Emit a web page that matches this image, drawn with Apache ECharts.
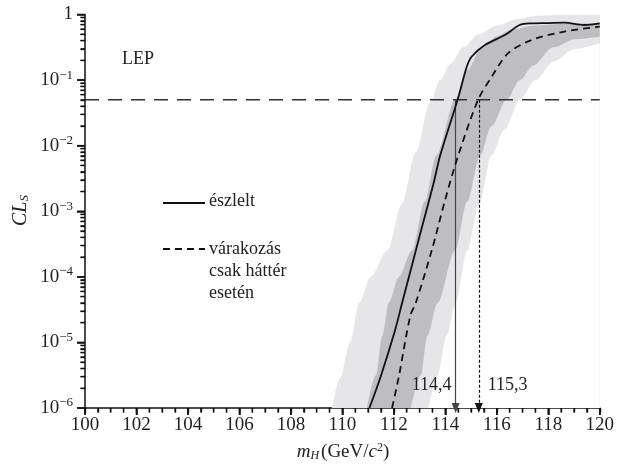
<!DOCTYPE html>
<html><head><meta charset="utf-8">
<script src="https://cdn.jsdelivr.net/npm/echarts@6/dist/echarts.min.js"></script>
<style>html,body{margin:0;padding:0;background:#fff}#c{width:617px;height:468px}</style>
</head><body><div id="c"></div>
<script>
// observed CLs
const massObs = [111.05, 111.48, 112.03, 112.32, 113.06, 113.54, 113.8, 114.48, 114.83, 115.02, 115.54, 116.31, 116.89, 117.34, 118.0, 118.63, 119.4, 120];
const clsObs  = [1e-6, 2.95e-6, 1.45e-5, 3.98e-5, 5.13e-4, 2.63e-3, 7.08e-3, 0.0507, 0.158, 0.227, 0.342, 0.486, 0.692, 0.733, 0.741, 0.75, 0.692, 0.733];
// expected (background only)
const massExp = [111.93, 112.19, 112.64, 112.85, 113.47, 113.99, 114.5, 115.28, 115.8, 116.44, 117.34, 118.63, 120];
const clsExp  = [1e-6, 2.95e-6, 2.57e-5, 3.98e-5, 2.51e-4, 1.48e-3, 7.08e-3, 0.0507, 0.112, 0.257, 0.407, 0.550, 0.652];
// 2 sigma band (light) edges
const band2UpMass = [109.6, 109.9, 110.3, 110.65, 111.1, 111.75, 112.3, 112.85, 113.4, 113.8, 114.2, 114.7, 115.3, 116.0, 116.8, 117.6, 118.5, 120];
const band2UpCLs  = [1e-6, 2.82e-6, 1e-5, 3.98e-5, 1e-4, 2.51e-4, 1.26e-3, 7.94e-3, 0.0447, 0.1, 0.178, 0.316, 0.501, 0.676, 0.851, 0.955, 1, 1];
const band2LoMass = [113.35, 113.7, 114.05, 114.4, 114.85, 115.3, 115.8, 116.3, 116.9, 117.5, 118.2, 119, 120];
const band2LoCLs  = [1e-6, 3.16e-6, 1.26e-5, 3.98e-5, 2.51e-4, 1.26e-3, 7.08e-3, 0.0178, 0.0501, 0.1, 0.191, 0.295, 0.363];
// 1 sigma band (dark) edges
const band1UpMass = [110.95, 111.3, 111.55, 111.8, 112.2, 112.7, 113.2, 113.65, 114.38, 114.85, 115.4, 116.0, 116.6, 117.4, 118.5, 120];
const band1UpCLs  = [1e-6, 3.16e-6, 1.26e-5, 3.98e-5, 1e-4, 2.51e-4, 1.41e-3, 7.08e-3, 0.0501, 0.141, 0.302, 0.468, 0.589, 0.676, 0.716, 0.735];
const band1LoMass = [112.66, 113.05, 113.3, 113.7, 114.38, 114.85, 115.35, 115.8, 116.38, 116.9, 117.4, 118.2, 119, 120];
const band1LoCLs  = [1e-6, 3.16e-6, 1.26e-5, 3.98e-5, 2.51e-4, 1.41e-3, 7.08e-3, 0.02, 0.0501, 0.1, 0.166, 0.316, 0.417, 0.457];
const threshold = 0.05;
const limitObs = 114.4, limitExp = 115.3;
const limitObsLabel = '114,4', limitExpLabel = '115,3';
const limitLabelCLs = 2.2e-6;
const xMin = 100, xMax = 120, xStep = 2, xMinorStep = 0.5;
const yMin = 1e-6, yMax = 1;
const legendObs = 'észlelt';
const legendExp = ['várakozás', 'csak háttér', 'esetén'];

const FONT = '"Liberation Serif", "DejaVu Serif", serif';
const TXT = '#222';
const LIGHT = '#e6e6e8', DARK = '#bebec1';

const minorY = [];
for (let e = -6; e <= -1; e++) for (let k = 2; k <= 9; k++) minorY.push(+(k * Math.pow(10, e)).toPrecision(3));
const majorY = [];
for (let e = -6; e <= 0; e++) majorY.push(Math.pow(10, e));
const ticksX = [];
for (let v = xMin; v <= xMax + 1e-9; v += xMinorStep) ticksX.push(+v.toFixed(2));

// band edge drawn as a filled area down to the axis; later layers cover earlier ones
function edge(xs, ys, fill, z) {
  return {
    type: 'line', z: z, silent: true, showSymbol: false, smooth: 0.3, smoothMonotone: 'x',
    data: xs.map((x, i) => [x, ys[i]]),
    lineStyle: { width: 0, color: fill },
    areaStyle: { color: fill, opacity: 1, origin: 'start' }
  };
}

const chart = echarts.init(document.getElementById('c'), null, { renderer: 'canvas' });
chart.setOption({
  animation: false,
  backgroundColor: '#fff',
  grid: { left: 85, right: 15, top: 14.5, bottom: 60 },
  xAxis: [{
    type: 'value', min: xMin, max: xMax, interval: xStep,
    axisLine: { show: true, lineStyle: { color: '#111', width: 1.5 } },
    axisTick: { show: true, length: 7, lineStyle: { color: '#111', width: 1.5 } },
    splitLine: { show: false },
    axisLabel: { color: TXT, fontFamily: FONT, fontSize: 19, margin: 8 }
  }, {
    type: 'value', min: xMin, max: xMax, interval: xMinorStep, position: 'bottom',
    axisLine: { show: false },
    axisTick: { show: true, length: 4.5, lineStyle: { color: '#111', width: 1.4 } },
    axisLabel: { show: false }, splitLine: { show: false }
  }],
  yAxis: {
    type: 'log', min: yMin, max: yMax, splitNumber: 6,
    axisLine: { show: true, lineStyle: { color: '#111', width: 1.5 } },
    axisTick: { show: true, length: 8, lineStyle: { color: '#111', width: 1.5 } },
    minorTick: { show: true, splitNumber: 9, length: 4.5, lineStyle: { color: '#111', width: 1.3 } },
    splitLine: { show: false },
    axisLabel: {
      margin: 12,
      formatter: function (v) {
        const e = Math.round(Math.log10(v));
        if (e === 0) return '{b|1}';
        return '{b|10}{s|\u2212' + (-e) + '}';
      },
      rich: {
        b: { fontFamily: FONT, fontSize: 19, color: TXT },
        s: { fontFamily: FONT, fontSize: 13, color: TXT, verticalAlign: 'top', padding: [0, 0, 10, 0] }
      }
    }
  },
  series: [
    edge(band2UpMass, band2UpCLs, LIGHT, 1),
    edge(band1UpMass, band1UpCLs, DARK, 1.1),
    edge(band1LoMass, band1LoCLs, LIGHT, 1.2),
    edge(band2LoMass, band2LoCLs, '#ffffff', 1.3),
    {
      type: 'line', z: 3, silent: true, showSymbol: false,
      data: [[xMin, threshold], [xMax, threshold]],
      lineStyle: { color: '#333', width: 1.5, type: [14, 9] }
    },
    {
      type: 'line', z: 5, silent: true, showSymbol: false, smooth: 0.3,
      data: massExp.map((x, i) => [x, clsExp[i]]),
      lineStyle: { color: '#111', width: 1.8, type: [7, 5] }
    },
    {
      type: 'line', z: 6, silent: true, showSymbol: false, smooth: 0.3,
      data: massObs.map((x, i) => [x, clsObs[i]]),
      lineStyle: { color: '#111', width: 1.8 },
      markLine: {
        silent: true, symbol: ['none', 'triangle'], symbolSize: [8, 10], precision: 6,
        label: { show: false },
        data: [
          [{ coord: [limitObs, threshold], lineStyle: { color: '#444', width: 1.2, type: 'solid' } }, { coord: [limitObs, yMin] }],
          [{ coord: [limitExp, threshold], lineStyle: { color: '#111', width: 1.2, type: [3, 2] } }, { coord: [limitExp, yMin] }]
        ]
      }
    }
  ],
  graphic: [
    { id: 'lep', type: 'text', left: 122, top: 50, style: { text: 'LEP', font: '18px ' + FONT, fill: TXT } },
    { id: 'l1', type: 'line', shape: { x1: 163, y1: 203, x2: 205, y2: 203 }, style: { stroke: '#111', lineWidth: 1.8 } },
    { id: 't1', type: 'text', left: 209, top: 192, style: { text: legendObs, font: '18px ' + FONT, fill: TXT } },
    { id: 'l2', type: 'line', shape: { x1: 163, y1: 249, x2: 205, y2: 249 }, style: { stroke: '#111', lineWidth: 1.8, lineDash: [7, 5] } },
    { id: 't2', type: 'text', left: 209, top: 238, style: { text: legendExp.join('\n'), font: '18px ' + FONT, fill: TXT, lineHeight: 22 } },
    { id: 'xt', type: 'text', x: 343, y: 452, style: {
        text: '{i|m}{isub|H}{n|(GeV/}{i|c}{sup|2}{n|)}', align: 'center', verticalAlign: 'middle',
        rich: {
          i: { fontFamily: FONT, fontStyle: 'italic', fontSize: 19, fill: TXT },
          isub: { fontFamily: FONT, fontStyle: 'italic', fontSize: 12, fill: TXT, verticalAlign: 'bottom', padding: [8, 2, 0, 0] },
          n: { fontFamily: FONT, fontSize: 19, fill: TXT },
          sup: { fontFamily: FONT, fontSize: 12, fill: TXT, verticalAlign: 'top', padding: [0, 0, 8, 0] }
        } } },
    { id: 'yt', type: 'text', x: 10, y: 226, rotation: Math.PI / 2, style: {
        text: '{i|CL}{sub|S}',
        rich: {
          i: { fontFamily: FONT, fontStyle: 'italic', fontSize: 20, fill: TXT },
          sub: { fontFamily: FONT, fontStyle: 'italic', fontSize: 13, fill: TXT, padding: [8, 0, 0, 0] }
        } } }
  ]
});

// tick marks and limit labels positioned through the chart's own scales
try {
  const els = [];
  const px = (x, y) => chart.convertToPixel({ gridIndex: 0 }, [x, y]);
  minorY.forEach((v, i) => {
    const p = px(xMin, v);
    els.push({ id: 'ym' + i, type: 'line', z: 100, shape: { x1: p[0] - 4.5, y1: p[1], x2: p[0], y2: p[1] }, style: { stroke: '#111', lineWidth: 1.3 } });
  });
  majorY.forEach((v, i) => {
    const p = px(xMin, v);
    els.push({ id: 'yM' + i, type: 'line', z: 100, shape: { x1: p[0] - 8, y1: p[1], x2: p[0], y2: p[1] }, style: { stroke: '#111', lineWidth: 1.5 } });
  });
  ticksX.forEach((v, i) => {
    const p = px(v, yMin);
    const major = Math.abs(v / xStep - Math.round(v / xStep)) < 1e-6;
    els.push({ id: 'xk' + i, type: 'line', z: 100, shape: { x1: p[0], y1: p[1], x2: p[0], y2: p[1] + (major ? 7 : 4.5) }, style: { stroke: '#111', lineWidth: major ? 1.5 : 1.3 } });
  });
  const a = px(limitObs, limitLabelCLs), b = px(limitExp, limitLabelCLs);
  els.push({ id: 'lo', type: 'text', z: 100, x: a[0] - 4, y: a[1], style: { text: limitObsLabel, font: '18px ' + FONT, fill: TXT, align: 'right', verticalAlign: 'middle' } });
  els.push({ id: 'le', type: 'text', z: 100, x: b[0] + 9, y: b[1], style: { text: limitExpLabel, font: '18px ' + FONT, fill: TXT, align: 'left', verticalAlign: 'middle' } });
  chart.setOption({ graphic: els });
} catch (e) { console.error(e); }
</script>
</body></html>
